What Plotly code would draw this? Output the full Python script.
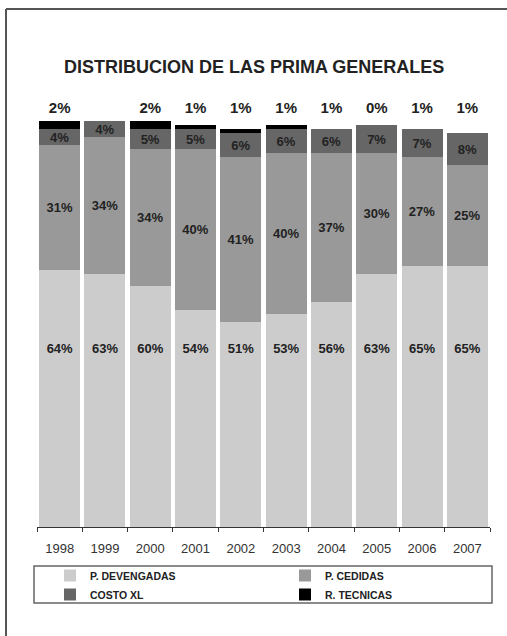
import plotly.graph_objects as go

years = ["1998", "1999", "2000", "2001", "2002", "2003", "2004", "2005", "2006", "2007"]
p_devengadas = [64, 63, 60, 54, 51, 53, 56, 63, 65, 65]
p_cedidas = [31, 34, 34, 40, 41, 40, 37, 30, 27, 25]
costo_xl = [4, 4, 5, 5, 6, 6, 6, 7, 7, 8]
r_tecnicas = [2, 0, 2, 1, 1, 1, 0, 0, 0, 0]  # black strip as drawn
r_tecnicas_lbl = ["2%", "", "2%", "1%", "1%", "1%", "1%", "0%", "1%", "1%"]

W, H = 507, 636
ML, MR, MT, MB = 37, 17, 85, 109
PW, PH = W - ML - MR, H - MT - MB


def px(x):
    return (x - ML) / PW


def py(y):
    return (H - MB - y) / PH


FONT = "Liberation Sans, Arial, sans-serif"
LBL = dict(family=FONT, size=13, color="#222", weight="bold")

fig = go.Figure()
fig.add_trace(go.Bar(x=years, y=p_devengadas, name="P. DEVENGADAS",
                     marker=dict(color="#cccccc", line_width=0), legend="legend"))
fig.add_trace(go.Bar(x=years, y=p_cedidas, name="P. CEDIDAS",
                     marker=dict(color="#999999", line_width=0), legend="legend2",
                     text=[f"{v}%" for v in p_cedidas], textposition="inside",
                     insidetextanchor="middle", constraintext="none", textfont=LBL))
fig.add_trace(go.Bar(x=years, y=costo_xl, name="COSTO XL",
                     marker=dict(color="#666666", line_width=0), legend="legend",
                     text=[f"{v}%" for v in costo_xl], textposition="inside",
                     insidetextanchor="middle", constraintext="none", textfont=LBL))
fig.add_trace(go.Bar(x=years, y=r_tecnicas, name="R. TECNICAS",
                     marker=dict(color="#000000", line_width=0), legend="legend2"))

# labels of the light segment sit on one common line
fig.add_trace(go.Scatter(x=years, y=[44] * len(years), mode="text",
                         text=[f"{v}%" for v in p_devengadas], textfont=LBL,
                         showlegend=False, hoverinfo="skip"))
# R. TECNICAS shares above the bars
fig.add_trace(go.Scatter(x=years, y=[104] * len(years), mode="text",
                         text=r_tecnicas_lbl, textfont=dict(LBL, size=15),
                         showlegend=False, hoverinfo="skip"))

leg = dict(orientation="v", traceorder="normal", bgcolor="rgba(0,0,0,0)",
           borderwidth=0, yanchor="top", xanchor="left",
           font=dict(family=FONT, size=10.5, color="#222", weight="bold"),
           itemclick=False)

fig.update_layout(
    width=W, height=H,
    margin=dict(l=ML, r=MR, t=MT, b=MB),
    barmode="stack", bargap=0.095,
    paper_bgcolor="white", plot_bgcolor="white",
    xaxis=dict(type="category", showline=True, linecolor="#333", linewidth=1,
               ticks="outside", tickson="boundaries", ticklen=4, tickcolor="#333",
               tickfont=dict(family=FONT, size=13, color="#333"),
               ticklabelstandoff=9, showgrid=False, zeroline=False),
    yaxis=dict(range=[0, 110], visible=False, showgrid=False, zeroline=False),
    legend=dict(leg, x=px(50), y=py(561)),
    legend2=dict(leg, x=px(285), y=py(561)),
    annotations=[dict(text="DISTRIBUCION DE LAS PRIMA GENERALES", xref="paper", yref="paper",
                      x=px(254), y=py(67), showarrow=False, xanchor="center", yanchor="middle",
                      font=dict(family=FONT, size=18, color="#222", weight="bold"))],
    shapes=[
        dict(type="line", xref="paper", yref="paper", x0=px(6), x1=px(6), y0=py(H), y1=py(9),
             line=dict(color="#555", width=2)),
        dict(type="line", xref="paper", yref="paper", x0=px(6), x1=px(W), y0=py(9), y1=py(9),
             line=dict(color="#555", width=2)),
        dict(type="rect", xref="paper", yref="paper", x0=px(34), x1=px(492), y0=py(603), y1=py(566),
             line=dict(color="#666", width=1.5)),
    ],
)

fig.write_html("out.html", config={"displayModeBar": False},
               post_script="document.body.style.margin='0';")
